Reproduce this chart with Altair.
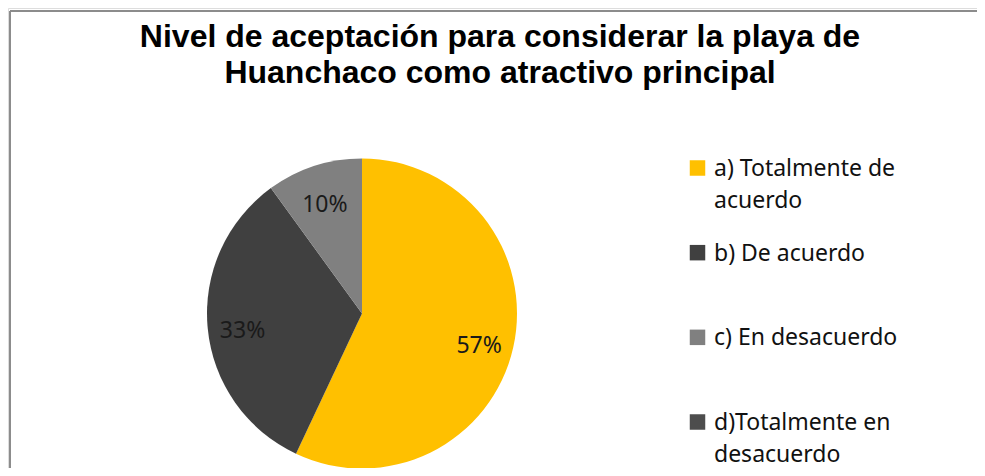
import altair as alt
import pandas as pd

categories = ["a) Totalmente de acuerdo", "b) De acuerdo", "c) En desacuerdo", "d)Totalmente en desacuerdo"]
legend_labels = ["a) Totalmente de\nacuerdo", "b) De acuerdo", "c) En desacuerdo", "d)Totalmente en\ndesacuerdo"]
values = [57, 33, 10, 0]
colors = ["#FFC000", "#404040", "#808080", "#4D4D4D"]
title_text = "Nivel de aceptación para considerar la playa de\nHuanchaco como  atractivo principal"

df = pd.DataFrame({
    "cat": categories,
    "label": legend_labels,
    "value": values,
    "order": list(range(len(categories))),
    "pct": [f"{v}%" for v in values],
})

W, H = 969, 460
CX, CY, R = 354, 305.5, 155

color = alt.Color("cat:N", scale=alt.Scale(domain=categories, range=colors), legend=None)

base = alt.Chart(df)

pie = base.mark_arc(radius=R, stroke=None).encode(
    theta=alt.Theta("value:Q", stack=True),
    order=alt.Order("order:Q"),
    color=color,
    x=alt.value(CX), y=alt.value(CY),
)

pie_labels = base.mark_text(radius=120, dy=6, font="Noto Sans", fontSize=23, color="#1a1a1a").encode(
    theta=alt.Theta("value:Q", stack=True),
    order=alt.Order("order:Q"),
    text=alt.Text("pct:N"),
    x=alt.value(CX), y=alt.value(CY),
    opacity=alt.condition("datum.value > 0", alt.value(1), alt.value(0)),
)

ysc = alt.Scale(domain=categories, range=[160, 414], type="point", padding=0)

leg_sq = base.mark_square(size=240, opacity=1).encode(
    x=alt.value(689.5),
    y=alt.Y("cat:N", scale=ysc, axis=None),
    color=color,
)

leg_txt = base.mark_text(align="left", baseline="top", dy=-10, font="Noto Sans", fontSize=23,
                         lineBreak="\n", lineHeight=32, color="#111111").encode(
    x=alt.value(706),
    y=alt.Y("cat:N", scale=ysc, axis=None),
    text="label:N",
)

title = alt.Chart(pd.DataFrame({"t": [title_text]})).mark_text(
    font="Liberation Sans", fontWeight="bold", fontSize=32, lineBreak="\n", lineHeight=36,
    align="center", baseline="middle", color="#000000"
).encode(x=alt.value(492), y=alt.value(29), text="t:N")

left_border = alt.Chart(pd.DataFrame({"a": [0]})).mark_rule(color="#8c8c8c", strokeWidth=2).encode(
    x=alt.value(2), y=alt.value(3), y2=alt.value(H)
)
top_border = alt.Chart(pd.DataFrame({"a": [0]})).mark_rule(color="#8c8c8c", strokeWidth=2).encode(
    x=alt.value(2), x2=alt.value(W), y=alt.value(3)
)

chart = alt.layer(left_border, top_border, pie, pie_labels, leg_sq, leg_txt, title).properties(
    width=W, height=H, autosize=alt.AutoSizeParams(type="none"), padding=0
).configure_view(stroke=None).configure(background="white")

chart.save("out.html", embed_options={"renderer": "svg", "actions": False})
